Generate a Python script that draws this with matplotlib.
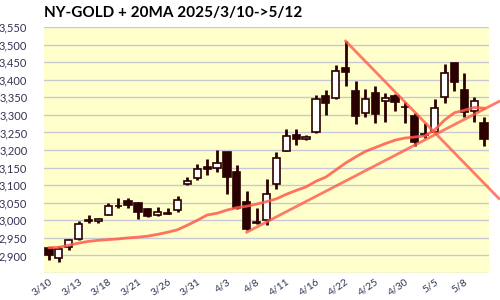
import numpy as np
import matplotlib
matplotlib.use('Agg')
import matplotlib.pyplot as plt
from matplotlib import ticker

# trading days 2025/3/10 -> 5/12
dates = ['3/10', '3/11', '3/12', '3/13', '3/14', '3/17', '3/18', '3/19', '3/20', '3/21',
         '3/24', '3/25', '3/26', '3/27', '3/28', '3/31', '4/1', '4/2', '4/3', '4/4',
         '4/7', '4/8', '4/9', '4/10', '4/11', '4/14', '4/15', '4/16', '4/17', '4/21',
         '4/22', '4/23', '4/24', '4/25', '4/28', '4/29', '4/30', '5/1', '5/2', '5/5',
         '5/6', '5/7', '5/8', '5/9', '5/12']

opens = [2920, 2894, 2924, 2946, 3000, 2997, 3016, 3042, 3055, 3048,
         3031, 3016, 3020, 3029, 3103, 3119, 3152, 3150, 3193, 3137,
         3051, 2994, 3000, 3103, 3197, 3244, 3230, 3252, 3354, 3348,
         3432, 3368, 3304, 3363, 3340, 3354, 3323, 3297, 3245, 3250,
         3350, 3447, 3372, 3312, 3278]
highs = [2925, 2926, 2948, 2998, 3014, 3007, 3050, 3062, 3063, 3052,
         3035, 3038, 3034, 3068, 3122, 3160, 3173, 3200, 3195, 3157,
         3083, 3035, 3117, 3193, 3261, 3259, 3242, 3356, 3370, 3442,
         3510, 3396, 3375, 3382, 3363, 3358, 3337, 3304, 3276, 3344,
         3444, 3447, 3420, 3350, 3293]
lows = [2888, 2882, 2915, 2945, 2991, 2993, 3015, 3036, 3036, 3003,
        3008, 3011, 3017, 3023, 3099, 3114, 3128, 3138, 3076, 3033,
        2972, 2990, 2986, 3088, 3196, 3214, 3228, 3247, 3301, 3345,
        3383, 3273, 3294, 3277, 3280, 3311, 3277, 3212, 3233, 3250,
        3334, 3368, 3294, 3280, 3212]
closes = [2902, 2918, 2944, 2989, 2998, 3003, 3041, 3040, 3044, 3024,
          3013, 3024, 3017, 3057, 3111, 3147, 3146, 3164, 3123, 3035,
          2976, 2991, 3076, 3176, 3240, 3230, 3238, 3344, 3333, 3424,
          3423, 3296, 3346, 3302, 3348, 3337, 3322, 3223, 3244, 3320,
          3420, 3394, 3309, 3340, 3230]

# 20-day moving average
ma20 = [2922, 2923, 2929, 2935, 2940, 2943, 2945, 2947, 2950, 2952,
        2955, 2960, 2966, 2973, 2986, 3000, 3015, 3020, 3029, 3036,
        3040, 3046, 3053, 3061, 3074, 3085, 3095, 3111, 3123, 3143,
        3163, 3180, 3196, 3207, 3218, 3228, 3234, 3237, 3240, 3257,
        3285, 3306, 3313, 3321, 3319]

# hand-drawn trend lines (index, price)
up_trend_x = [20, 45.5]
up_trend_y = [2966, 3338]
down_trend_x = [30, 45.5]
down_trend_y = [3510, 3062]

tick_step = 3
dark = '#2a0000'
line_red = '#ff5a4a'

plt.rcParams['font.family'] = ['Lato', 'DejaVu Sans']

fig = plt.figure(figsize=(5, 3), dpi=100)
ax = fig.add_axes([0.088, 0.09, 0.89, 0.82])
ax.set_facecolor('#ffffcc')

x = np.arange(len(dates))
o = np.array(opens)
c = np.array(closes)
up = c >= o

# wicks
ax.vlines(x, lows, highs, color=dark, linewidth=2, zorder=3)

# bodies
bottom = np.minimum(o, c)
height = np.maximum(np.abs(c - o), 0.8)
ax.bar(x[up], height[up], bottom=bottom[up], width=0.72, color='white',
       edgecolor=dark, linewidth=1.2, zorder=4)
ax.bar(x[~up], height[~up], bottom=bottom[~up], width=0.72, color=dark,
       edgecolor=dark, linewidth=1.2, zorder=4)

# moving average and trend lines
ax.plot(x, ma20, color=line_red, linewidth=2, alpha=0.85, zorder=5)
ax.plot(up_trend_x, up_trend_y, color=line_red, linewidth=2, alpha=0.8,
        zorder=5, clip_on=False)
ax.plot(down_trend_x, down_trend_y, color=line_red, linewidth=2, alpha=0.8,
        zorder=5, clip_on=False)

ax.set_xlim(-0.5, len(dates) - 0.5)
ax.set_ylim(2850, 3550)
ax.yaxis.set_major_locator(ticker.MultipleLocator(50))
ax.yaxis.set_major_formatter(ticker.FuncFormatter(lambda v, p: f'{v:,.0f}' if v > 2850 else ''))
ax.grid(axis='y', color='#c8c8d4', linewidth=1)
ax.set_axisbelow(True)

ax.set_xticks(x[::tick_step])
ax.set_xticklabels(dates[::tick_step], rotation=35, ha='right', va='top',
                   rotation_mode='anchor')

for s in ax.spines.values():
    s.set_visible(False)
ax.tick_params(length=0, labelsize=8, labelcolor='#333355')
ax.tick_params(axis='y', pad=12)
ax.tick_params(axis='x', pad=3)
for lbl in ax.get_xticklabels():
    lbl.set_fontsize(7.5)

fig.text(0.088, 0.955, 'NY-GOLD + 20MA 2025/3/10->5/12', fontsize=11,
         fontweight='bold', va='center', ha='left', color='black')

fig.savefig('out.png', dpi=100, facecolor='white')
